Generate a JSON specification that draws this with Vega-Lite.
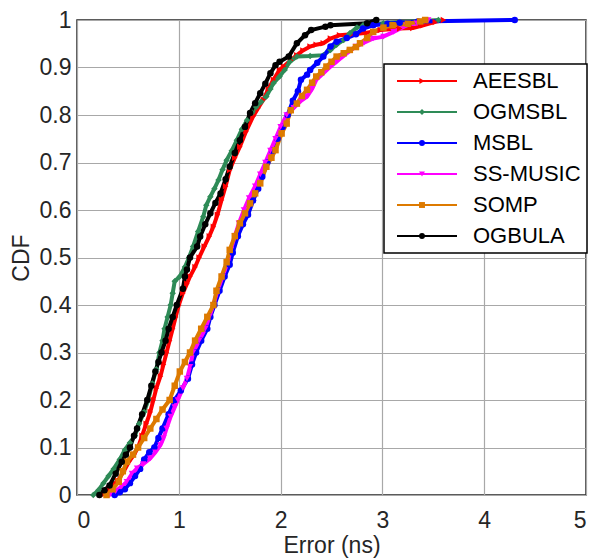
{
  "$schema": "https://vega.github.io/schema/vega-lite/v6.json",
  "width": 509,
  "height": 475,
  "autosize": {"type": "none"},
  "padding": {"left": 77, "top": 20, "right": 13, "bottom": 64},
  "background": "white",
  "config": {
    "view": {"stroke": "#262626", "strokeWidth": 1.5},
    "font": "Liberation Sans",
    "legend": {"strokeWidth": 1.5},
    "axis": {
      "grid": true, "gridColor": "#a8a8a8", "gridWidth": 1.2,
      "domain": false, "ticks": false,
      "labelFont": "Liberation Sans", "labelFontSize": 23, "labelColor": "#262626",
      "titleFont": "Liberation Sans", "titleFontSize": 23, "titleFontWeight": "normal", "titleColor": "#262626"
    }
  },
  "data": {"values": [
    {"method":"AEESBL","error":0.25,"cdf":0.0},{"method":"AEESBL","error":0.32,"cdf":0.015},{"method":"AEESBL","error":0.40,"cdf":0.03},{"method":"AEESBL","error":0.46,"cdf":0.05},{"method":"AEESBL","error":0.51,"cdf":0.07},{"method":"AEESBL","error":0.56,"cdf":0.085},{"method":"AEESBL","error":0.60,"cdf":0.10},{"method":"AEESBL","error":0.64,"cdf":0.125},{"method":"AEESBL","error":0.68,"cdf":0.15},{"method":"AEESBL","error":0.72,"cdf":0.175},{"method":"AEESBL","error":0.75,"cdf":0.20},{"method":"AEESBL","error":0.78,"cdf":0.225},{"method":"AEESBL","error":0.82,"cdf":0.25},{"method":"AEESBL","error":0.85,"cdf":0.275},{"method":"AEESBL","error":0.88,"cdf":0.30},{"method":"AEESBL","error":0.91,"cdf":0.325},{"method":"AEESBL","error":0.94,"cdf":0.35},{"method":"AEESBL","error":0.97,"cdf":0.375},{"method":"AEESBL","error":1.00,"cdf":0.40},{"method":"AEESBL","error":1.04,"cdf":0.425},{"method":"AEESBL","error":1.08,"cdf":0.445},{"method":"AEESBL","error":1.11,"cdf":0.46},{"method":"AEESBL","error":1.16,"cdf":0.48},{"method":"AEESBL","error":1.20,"cdf":0.50},{"method":"AEESBL","error":1.25,"cdf":0.523},{"method":"AEESBL","error":1.30,"cdf":0.545},{"method":"AEESBL","error":1.34,"cdf":0.565},{"method":"AEESBL","error":1.38,"cdf":0.59},{"method":"AEESBL","error":1.42,"cdf":0.621},{"method":"AEESBL","error":1.46,"cdf":0.65},{"method":"AEESBL","error":1.50,"cdf":0.684},{"method":"AEESBL","error":1.55,"cdf":0.71},{"method":"AEESBL","error":1.60,"cdf":0.733},{"method":"AEESBL","error":1.66,"cdf":0.765},{"method":"AEESBL","error":1.73,"cdf":0.797},{"method":"AEESBL","error":1.78,"cdf":0.815},{"method":"AEESBL","error":1.83,"cdf":0.832},{"method":"AEESBL","error":1.88,"cdf":0.855},{"method":"AEESBL","error":1.93,"cdf":0.874},{"method":"AEESBL","error":1.99,"cdf":0.895},{"method":"AEESBL","error":2.03,"cdf":0.902},{"method":"AEESBL","error":2.10,"cdf":0.915},{"method":"AEESBL","error":2.16,"cdf":0.926},{"method":"AEESBL","error":2.22,"cdf":0.936},{"method":"AEESBL","error":2.29,"cdf":0.944},{"method":"AEESBL","error":2.35,"cdf":0.948},{"method":"AEESBL","error":2.42,"cdf":0.951},{"method":"AEESBL","error":2.49,"cdf":0.961},{"method":"AEESBL","error":2.58,"cdf":0.968},{"method":"AEESBL","error":2.70,"cdf":0.970},{"method":"AEESBL","error":2.85,"cdf":0.973},{"method":"AEESBL","error":2.98,"cdf":0.979},{"method":"AEESBL","error":3.17,"cdf":0.982},{"method":"AEESBL","error":3.30,"cdf":0.983},{"method":"AEESBL","error":3.40,"cdf":0.989},{"method":"AEESBL","error":3.52,"cdf":0.996},{"method":"AEESBL","error":3.60,"cdf":1.0},

    {"method":"OGMSBL","error":0.16,"cdf":0.0},{"method":"OGMSBL","error":0.21,"cdf":0.01},{"method":"OGMSBL","error":0.26,"cdf":0.025},{"method":"OGMSBL","error":0.31,"cdf":0.04},{"method":"OGMSBL","error":0.36,"cdf":0.055},{"method":"OGMSBL","error":0.42,"cdf":0.075},{"method":"OGMSBL","error":0.47,"cdf":0.095},{"method":"OGMSBL","error":0.52,"cdf":0.11},{"method":"OGMSBL","error":0.57,"cdf":0.125},{"method":"OGMSBL","error":0.61,"cdf":0.15},{"method":"OGMSBL","error":0.66,"cdf":0.175},{"method":"OGMSBL","error":0.70,"cdf":0.20},{"method":"OGMSBL","error":0.74,"cdf":0.235},{"method":"OGMSBL","error":0.78,"cdf":0.265},{"method":"OGMSBL","error":0.81,"cdf":0.30},{"method":"OGMSBL","error":0.84,"cdf":0.325},{"method":"OGMSBL","error":0.86,"cdf":0.35},{"method":"OGMSBL","error":0.89,"cdf":0.375},{"method":"OGMSBL","error":0.92,"cdf":0.40},{"method":"OGMSBL","error":0.94,"cdf":0.425},{"method":"OGMSBL","error":0.96,"cdf":0.45},{"method":"OGMSBL","error":1.01,"cdf":0.46},{"method":"OGMSBL","error":1.06,"cdf":0.48},{"method":"OGMSBL","error":1.10,"cdf":0.50},{"method":"OGMSBL","error":1.14,"cdf":0.523},{"method":"OGMSBL","error":1.19,"cdf":0.555},{"method":"OGMSBL","error":1.24,"cdf":0.586},{"method":"OGMSBL","error":1.27,"cdf":0.61},{"method":"OGMSBL","error":1.31,"cdf":0.628},{"method":"OGMSBL","error":1.35,"cdf":0.645},{"method":"OGMSBL","error":1.39,"cdf":0.663},{"method":"OGMSBL","error":1.43,"cdf":0.685},{"method":"OGMSBL","error":1.47,"cdf":0.705},{"method":"OGMSBL","error":1.52,"cdf":0.725},{"method":"OGMSBL","error":1.57,"cdf":0.747},{"method":"OGMSBL","error":1.62,"cdf":0.77},{"method":"OGMSBL","error":1.67,"cdf":0.789},{"method":"OGMSBL","error":1.72,"cdf":0.805},{"method":"OGMSBL","error":1.76,"cdf":0.817},{"method":"OGMSBL","error":1.81,"cdf":0.828},{"method":"OGMSBL","error":1.86,"cdf":0.839},{"method":"OGMSBL","error":1.90,"cdf":0.855},{"method":"OGMSBL","error":1.93,"cdf":0.867},{"method":"OGMSBL","error":1.99,"cdf":0.881},{"method":"OGMSBL","error":2.04,"cdf":0.895},{"method":"OGMSBL","error":2.09,"cdf":0.912},{"method":"OGMSBL","error":2.16,"cdf":0.923},{"method":"OGMSBL","error":2.29,"cdf":0.924},{"method":"OGMSBL","error":2.42,"cdf":0.926},{"method":"OGMSBL","error":2.49,"cdf":0.937},{"method":"OGMSBL","error":2.55,"cdf":0.948},{"method":"OGMSBL","error":2.62,"cdf":0.958},{"method":"OGMSBL","error":2.68,"cdf":0.972},{"method":"OGMSBL","error":2.75,"cdf":0.984},{"method":"OGMSBL","error":2.81,"cdf":0.989},{"method":"OGMSBL","error":3.01,"cdf":0.993},{"method":"OGMSBL","error":3.17,"cdf":0.996},{"method":"OGMSBL","error":3.40,"cdf":0.998},{"method":"OGMSBL","error":3.55,"cdf":1.0},

    {"method":"MSBL","error":0.37,"cdf":0.0},{"method":"MSBL","error":0.42,"cdf":0.006},{"method":"MSBL","error":0.47,"cdf":0.012},{"method":"MSBL","error":0.52,"cdf":0.025},{"method":"MSBL","error":0.57,"cdf":0.04},{"method":"MSBL","error":0.62,"cdf":0.055},{"method":"MSBL","error":0.66,"cdf":0.075},{"method":"MSBL","error":0.71,"cdf":0.09},{"method":"MSBL","error":0.76,"cdf":0.10},{"method":"MSBL","error":0.80,"cdf":0.12},{"method":"MSBL","error":0.84,"cdf":0.14},{"method":"MSBL","error":0.90,"cdf":0.17},{"method":"MSBL","error":0.96,"cdf":0.20},{"method":"MSBL","error":1.02,"cdf":0.22},{"method":"MSBL","error":1.09,"cdf":0.245},{"method":"MSBL","error":1.13,"cdf":0.275},{"method":"MSBL","error":1.17,"cdf":0.30},{"method":"MSBL","error":1.22,"cdf":0.325},{"method":"MSBL","error":1.28,"cdf":0.35},{"method":"MSBL","error":1.31,"cdf":0.375},{"method":"MSBL","error":1.35,"cdf":0.40},{"method":"MSBL","error":1.40,"cdf":0.43},{"method":"MSBL","error":1.45,"cdf":0.46},{"method":"MSBL","error":1.50,"cdf":0.485},{"method":"MSBL","error":1.53,"cdf":0.51},{"method":"MSBL","error":1.58,"cdf":0.545},{"method":"MSBL","error":1.63,"cdf":0.57},{"method":"MSBL","error":1.68,"cdf":0.59},{"method":"MSBL","error":1.73,"cdf":0.62},{"method":"MSBL","error":1.78,"cdf":0.645},{"method":"MSBL","error":1.82,"cdf":0.67},{"method":"MSBL","error":1.87,"cdf":0.70},{"method":"MSBL","error":1.92,"cdf":0.725},{"method":"MSBL","error":1.97,"cdf":0.75},{"method":"MSBL","error":2.02,"cdf":0.775},{"method":"MSBL","error":2.07,"cdf":0.80},{"method":"MSBL","error":2.12,"cdf":0.83},{"method":"MSBL","error":2.17,"cdf":0.85},{"method":"MSBL","error":2.20,"cdf":0.874},{"method":"MSBL","error":2.26,"cdf":0.885},{"method":"MSBL","error":2.29,"cdf":0.895},{"method":"MSBL","error":2.36,"cdf":0.91},{"method":"MSBL","error":2.42,"cdf":0.923},{"method":"MSBL","error":2.49,"cdf":0.944},{"method":"MSBL","error":2.55,"cdf":0.954},{"method":"MSBL","error":2.65,"cdf":0.962},{"method":"MSBL","error":2.74,"cdf":0.97},{"method":"MSBL","error":2.81,"cdf":0.982},{"method":"MSBL","error":2.91,"cdf":0.989},{"method":"MSBL","error":3.05,"cdf":0.992},{"method":"MSBL","error":3.17,"cdf":0.994},{"method":"MSBL","error":3.35,"cdf":0.997},{"method":"MSBL","error":4.30,"cdf":1.0},

    {"method":"SS-MUSIC","error":0.32,"cdf":0.0},{"method":"SS-MUSIC","error":0.38,"cdf":0.008},{"method":"SS-MUSIC","error":0.44,"cdf":0.018},{"method":"SS-MUSIC","error":0.49,"cdf":0.028},{"method":"SS-MUSIC","error":0.54,"cdf":0.045},{"method":"SS-MUSIC","error":0.59,"cdf":0.056},{"method":"SS-MUSIC","error":0.65,"cdf":0.065},{"method":"SS-MUSIC","error":0.72,"cdf":0.077},{"method":"SS-MUSIC","error":0.77,"cdf":0.09},{"method":"SS-MUSIC","error":0.82,"cdf":0.105},{"method":"SS-MUSIC","error":0.85,"cdf":0.12},{"method":"SS-MUSIC","error":0.88,"cdf":0.14},{"method":"SS-MUSIC","error":0.92,"cdf":0.165},{"method":"SS-MUSIC","error":0.96,"cdf":0.185},{"method":"SS-MUSIC","error":0.99,"cdf":0.20},{"method":"SS-MUSIC","error":1.04,"cdf":0.225},{"method":"SS-MUSIC","error":1.08,"cdf":0.245},{"method":"SS-MUSIC","error":1.11,"cdf":0.27},{"method":"SS-MUSIC","error":1.14,"cdf":0.30},{"method":"SS-MUSIC","error":1.20,"cdf":0.325},{"method":"SS-MUSIC","error":1.26,"cdf":0.35},{"method":"SS-MUSIC","error":1.30,"cdf":0.375},{"method":"SS-MUSIC","error":1.34,"cdf":0.40},{"method":"SS-MUSIC","error":1.38,"cdf":0.43},{"method":"SS-MUSIC","error":1.43,"cdf":0.46},{"method":"SS-MUSIC","error":1.48,"cdf":0.49},{"method":"SS-MUSIC","error":1.51,"cdf":0.516},{"method":"SS-MUSIC","error":1.55,"cdf":0.545},{"method":"SS-MUSIC","error":1.59,"cdf":0.572},{"method":"SS-MUSIC","error":1.64,"cdf":0.60},{"method":"SS-MUSIC","error":1.69,"cdf":0.625},{"method":"SS-MUSIC","error":1.75,"cdf":0.65},{"method":"SS-MUSIC","error":1.80,"cdf":0.675},{"method":"SS-MUSIC","error":1.85,"cdf":0.70},{"method":"SS-MUSIC","error":1.90,"cdf":0.725},{"method":"SS-MUSIC","error":1.95,"cdf":0.75},{"method":"SS-MUSIC","error":2.00,"cdf":0.775},{"method":"SS-MUSIC","error":2.06,"cdf":0.80},{"method":"SS-MUSIC","error":2.13,"cdf":0.815},{"method":"SS-MUSIC","error":2.20,"cdf":0.83},{"method":"SS-MUSIC","error":2.26,"cdf":0.839},{"method":"SS-MUSIC","error":2.31,"cdf":0.855},{"method":"SS-MUSIC","error":2.35,"cdf":0.874},{"method":"SS-MUSIC","error":2.42,"cdf":0.888},{"method":"SS-MUSIC","error":2.49,"cdf":0.902},{"method":"SS-MUSIC","error":2.55,"cdf":0.912},{"method":"SS-MUSIC","error":2.61,"cdf":0.923},{"method":"SS-MUSIC","error":2.68,"cdf":0.935},{"method":"SS-MUSIC","error":2.74,"cdf":0.944},{"method":"SS-MUSIC","error":2.82,"cdf":0.952},{"method":"SS-MUSIC","error":2.91,"cdf":0.961},{"method":"SS-MUSIC","error":3.01,"cdf":0.965},{"method":"SS-MUSIC","error":3.11,"cdf":0.975},{"method":"SS-MUSIC","error":3.24,"cdf":0.989},{"method":"SS-MUSIC","error":3.34,"cdf":0.993},{"method":"SS-MUSIC","error":3.45,"cdf":1.0},

    {"method":"SOMP","error":0.29,"cdf":0.0},{"method":"SOMP","error":0.35,"cdf":0.012},{"method":"SOMP","error":0.41,"cdf":0.028},{"method":"SOMP","error":0.45,"cdf":0.05},{"method":"SOMP","error":0.49,"cdf":0.07},{"method":"SOMP","error":0.55,"cdf":0.085},{"method":"SOMP","error":0.60,"cdf":0.10},{"method":"SOMP","error":0.66,"cdf":0.12},{"method":"SOMP","error":0.72,"cdf":0.14},{"method":"SOMP","error":0.78,"cdf":0.16},{"method":"SOMP","error":0.84,"cdf":0.18},{"method":"SOMP","error":0.91,"cdf":0.20},{"method":"SOMP","error":0.96,"cdf":0.23},{"method":"SOMP","error":1.01,"cdf":0.26},{"method":"SOMP","error":1.06,"cdf":0.28},{"method":"SOMP","error":1.11,"cdf":0.30},{"method":"SOMP","error":1.16,"cdf":0.325},{"method":"SOMP","error":1.22,"cdf":0.35},{"method":"SOMP","error":1.28,"cdf":0.375},{"method":"SOMP","error":1.34,"cdf":0.40},{"method":"SOMP","error":1.37,"cdf":0.43},{"method":"SOMP","error":1.42,"cdf":0.46},{"method":"SOMP","error":1.47,"cdf":0.49},{"method":"SOMP","error":1.50,"cdf":0.516},{"method":"SOMP","error":1.55,"cdf":0.545},{"method":"SOMP","error":1.60,"cdf":0.572},{"method":"SOMP","error":1.65,"cdf":0.593},{"method":"SOMP","error":1.70,"cdf":0.614},{"method":"SOMP","error":1.75,"cdf":0.635},{"method":"SOMP","error":1.80,"cdf":0.656},{"method":"SOMP","error":1.86,"cdf":0.691},{"method":"SOMP","error":1.91,"cdf":0.71},{"method":"SOMP","error":1.95,"cdf":0.726},{"method":"SOMP","error":2.01,"cdf":0.761},{"method":"SOMP","error":2.06,"cdf":0.782},{"method":"SOMP","error":2.10,"cdf":0.81},{"method":"SOMP","error":2.16,"cdf":0.824},{"method":"SOMP","error":2.21,"cdf":0.84},{"method":"SOMP","error":2.26,"cdf":0.853},{"method":"SOMP","error":2.31,"cdf":0.868},{"method":"SOMP","error":2.35,"cdf":0.881},{"method":"SOMP","error":2.40,"cdf":0.89},{"method":"SOMP","error":2.45,"cdf":0.902},{"method":"SOMP","error":2.50,"cdf":0.912},{"method":"SOMP","error":2.55,"cdf":0.923},{"method":"SOMP","error":2.62,"cdf":0.93},{"method":"SOMP","error":2.68,"cdf":0.937},{"method":"SOMP","error":2.74,"cdf":0.943},{"method":"SOMP","error":2.78,"cdf":0.951},{"method":"SOMP","error":2.85,"cdf":0.962},{"method":"SOMP","error":2.91,"cdf":0.975},{"method":"SOMP","error":3.01,"cdf":0.984},{"method":"SOMP","error":3.10,"cdf":0.989},{"method":"SOMP","error":3.25,"cdf":0.992},{"method":"SOMP","error":3.37,"cdf":0.997},{"method":"SOMP","error":3.42,"cdf":1.0},

    {"method":"OGBULA","error":0.22,"cdf":0.0},{"method":"OGBULA","error":0.27,"cdf":0.01},{"method":"OGBULA","error":0.32,"cdf":0.02},{"method":"OGBULA","error":0.38,"cdf":0.045},{"method":"OGBULA","error":0.44,"cdf":0.07},{"method":"OGBULA","error":0.48,"cdf":0.085},{"method":"OGBULA","error":0.52,"cdf":0.10},{"method":"OGBULA","error":0.56,"cdf":0.125},{"method":"OGBULA","error":0.59,"cdf":0.14},{"method":"OGBULA","error":0.64,"cdf":0.17},{"method":"OGBULA","error":0.69,"cdf":0.20},{"method":"OGBULA","error":0.73,"cdf":0.23},{"method":"OGBULA","error":0.77,"cdf":0.26},{"method":"OGBULA","error":0.80,"cdf":0.28},{"method":"OGBULA","error":0.83,"cdf":0.30},{"method":"OGBULA","error":0.87,"cdf":0.325},{"method":"OGBULA","error":0.90,"cdf":0.35},{"method":"OGBULA","error":0.94,"cdf":0.375},{"method":"OGBULA","error":0.98,"cdf":0.40},{"method":"OGBULA","error":1.04,"cdf":0.434},{"method":"OGBULA","error":1.06,"cdf":0.46},{"method":"OGBULA","error":1.08,"cdf":0.475},{"method":"OGBULA","error":1.11,"cdf":0.50},{"method":"OGBULA","error":1.18,"cdf":0.523},{"method":"OGBULA","error":1.21,"cdf":0.544},{"method":"OGBULA","error":1.26,"cdf":0.57},{"method":"OGBULA","error":1.31,"cdf":0.593},{"method":"OGBULA","error":1.36,"cdf":0.615},{"method":"OGBULA","error":1.41,"cdf":0.635},{"method":"OGBULA","error":1.46,"cdf":0.665},{"method":"OGBULA","error":1.50,"cdf":0.691},{"method":"OGBULA","error":1.55,"cdf":0.72},{"method":"OGBULA","error":1.60,"cdf":0.747},{"method":"OGBULA","error":1.65,"cdf":0.775},{"method":"OGBULA","error":1.70,"cdf":0.804},{"method":"OGBULA","error":1.75,"cdf":0.825},{"method":"OGBULA","error":1.80,"cdf":0.846},{"method":"OGBULA","error":1.85,"cdf":0.866},{"method":"OGBULA","error":1.90,"cdf":0.888},{"method":"OGBULA","error":1.95,"cdf":0.905},{"method":"OGBULA","error":1.99,"cdf":0.912},{"method":"OGBULA","error":2.08,"cdf":0.923},{"method":"OGBULA","error":2.16,"cdf":0.951},{"method":"OGBULA","error":2.24,"cdf":0.968},{"method":"OGBULA","error":2.30,"cdf":0.979},{"method":"OGBULA","error":2.44,"cdf":0.986},{"method":"OGBULA","error":2.49,"cdf":0.989},{"method":"OGBULA","error":2.85,"cdf":0.993},{"method":"OGBULA","error":2.94,"cdf":1.0}
  ]},
  "encoding": {
    "x": {"field": "error", "type": "quantitative",
      "scale": {"domain": [0, 5], "nice": false},
      "axis": {"title": "Error (ns)", "values": [0, 1, 2, 3, 4, 5], "labelPadding": 14, "titlePadding": 2}},
    "y": {"field": "cdf", "type": "quantitative",
      "scale": {"domain": [0, 1], "nice": false},
      "axis": {"title": "CDF", "values": [0, 0.1, 0.2, 0.3, 0.4, 0.5, 0.6, 0.7, 0.8, 0.9, 1], "format": "~g", "labelPadding": 6, "titlePadding": 6}}
  },
  "layer": [
    {
      "mark": {"type": "line", "strokeWidth": 4},
      "encoding": {
        "color": {"field": "method", "type": "nominal",
          "scale": {"domain": ["AEESBL", "OGMSBL", "MSBL", "SS-MUSIC", "SOMP", "OGBULA"],
                    "range": ["#FF0000", "#2E8B57", "#0000FF", "#FF00FF", "#DD7A00", "#000000"]},
          "legend": {"title": null, "orient": "none", "legendX": 307, "legendY": 44,
            "symbolType": "M-6,0H6", "symbolSize": 100, "symbolStrokeWidth": 2.2,
            "symbolOffset": 26, "labelOffset": 35, "labelFontSize": 22, "labelFont": "Liberation Sans",
            "labelColor": "#000000", "labelLimit": 300, "padding": 6, "rowPadding": 9,
            "fillColor": "white", "strokeColor": "#000000"}}
      }
    },
    {
      "mark": {"type": "point", "filled": true, "size": 42, "opacity": 1},
      "encoding": {
        "color": {"field": "method", "type": "nominal",
          "legend": {"title": null, "orient": "none", "legendX": 307, "legendY": 44,
            "symbolSize": 35, "symbolOffset": 21, "labelOffset": 14, "labelFontSize": 22,
            "labelFont": "Liberation Sans", "labelExpr": "''", "padding": 6, "rowPadding": 9,
            "symbolOpacity": 1, "strokeColor": null, "fillColor": null}},
        "shape": {"field": "method", "type": "nominal",
          "scale": {"domain": ["AEESBL", "OGMSBL", "MSBL", "SS-MUSIC", "SOMP", "OGBULA"],
                    "range": ["triangle-right", "diamond", "circle", "triangle-down", "square", "circle"]},
          "legend": {"title": null, "orient": "none", "legendX": 307, "legendY": 44,
            "symbolSize": 35, "symbolOffset": 21, "labelOffset": 14, "labelFontSize": 22,
            "labelFont": "Liberation Sans", "labelExpr": "''", "padding": 6, "rowPadding": 9,
            "symbolOpacity": 1, "strokeColor": null, "fillColor": null}}
      }
    }
  ],
  "resolve": {"legend": {"color": "independent", "shape": "independent"}}
}
